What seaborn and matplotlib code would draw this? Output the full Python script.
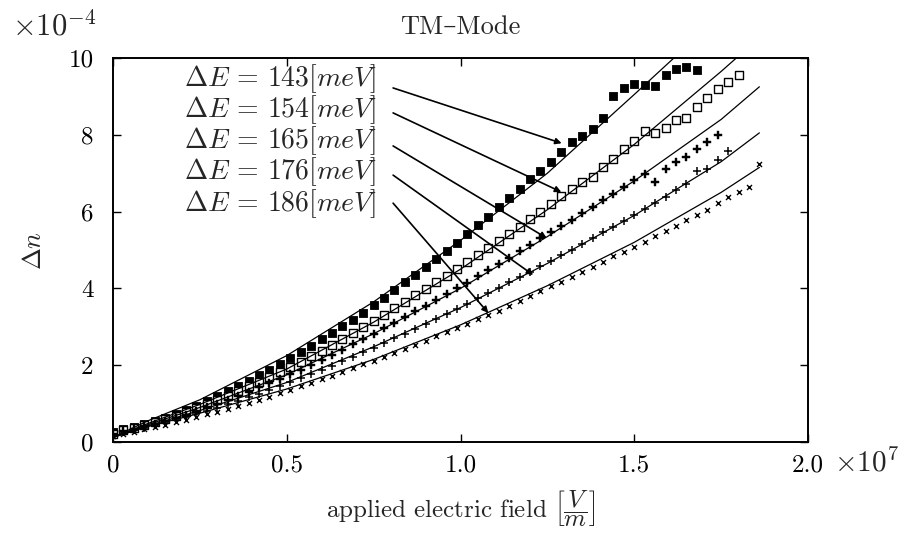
import numpy as np
import pandas as pd
import matplotlib
matplotlib.use("Agg")
import matplotlib.pyplot as plt
import seaborn as sns

# ---------------- data (x in units of 1e7 V/m, y in units of 1e-4) ----------------
labels = ["143", "154", "165", "176", "186"]

field = [0.00, 0.03, 0.06, 0.09, 0.12, 0.15, 0.18, 0.21, 0.24, 0.27, 0.30, 0.33,
         0.36, 0.39, 0.42, 0.45, 0.48, 0.51, 0.54, 0.57, 0.60, 0.63, 0.66, 0.69,
         0.72, 0.75, 0.78, 0.81, 0.84, 0.87, 0.90, 0.93, 0.96, 0.99, 1.02, 1.05,
         1.08, 1.11, 1.14, 1.17, 1.20, 1.23, 1.26, 1.29, 1.32, 1.35, 1.38, 1.41,
         1.44, 1.47, 1.50, 1.53, 1.56, 1.59, 1.62, 1.65, 1.68, 1.71, 1.74, 1.77,
         1.80, 1.83, 1.86]

dn_143 = [0.25, 0.33, 0.40, 0.47, 0.55, 0.63, 0.72, 0.83, 0.95, 1.07, 1.20, 1.33,
          1.46, 1.60, 1.74, 1.88, 2.03, 2.18, 2.34, 2.50, 2.67, 2.84, 3.01, 3.19,
          3.37, 3.56, 3.76, 3.96, 4.16, 4.36, 4.56, 4.77, 4.98, 5.19, 5.42, 5.64,
          5.87, 6.11, 6.36, 6.60, 6.84, 7.06, 7.28, 7.55, 7.80, 7.98, 8.15, 8.45,
          9.00, 9.22, 9.33, 9.30, 9.26, 9.55, 9.72, 9.77, 9.70]
dn_154 = [0.22, 0.30, 0.37, 0.44, 0.51, 0.59, 0.67, 0.77, 0.88, 0.99, 1.10, 1.21,
          1.33, 1.45, 1.57, 1.69, 1.82, 1.95, 2.09, 2.23, 2.38, 2.53, 2.68, 2.84,
          3.00, 3.16, 3.32, 3.48, 3.65, 3.82, 3.99, 4.16, 4.33, 4.50, 4.68, 4.86,
          5.04, 5.23, 5.42, 5.61, 5.80, 5.98, 6.20, 6.40, 6.58, 6.78, 6.90, 7.15,
          7.38, 7.62, 7.85, 8.10, 8.05, 8.18, 8.38, 8.45, 8.72, 8.95, 9.18, 9.38,
          9.56]
dn_165 = [0.20, 0.28, 0.35, 0.41, 0.48, 0.55, 0.62, 0.71, 0.80, 0.90, 1.00, 1.10,
          1.20, 1.31, 1.42, 1.53, 1.64, 1.76, 1.88, 2.01, 2.14, 2.27, 2.40, 2.54,
          2.68, 2.82, 2.96, 3.10, 3.25, 3.40, 3.55, 3.70, 3.85, 4.00, 4.15, 4.31,
          4.47, 4.64, 4.80, 4.97, 5.14, 5.31, 5.46, 5.62, 5.79, 5.96, 6.13, 6.30,
          6.47, 6.64, 6.82, 6.98, 6.78, 7.10, 7.30, 7.42, 7.62, 7.82, 8.00]
dn_176 = [0.18, 0.25, 0.31, 0.37, 0.43, 0.50, 0.57, 0.64, 0.72, 0.80, 0.89, 0.98,
          1.07, 1.16, 1.25, 1.35, 1.45, 1.55, 1.66, 1.77, 1.88, 1.99, 2.10, 2.22,
          2.34, 2.46, 2.58, 2.70, 2.82, 2.95, 3.08, 3.21, 3.34, 3.47, 3.60, 3.74,
          3.88, 4.02, 4.16, 4.30, 4.44, 4.58, 4.72, 4.86, 5.01, 5.16, 5.31, 5.46,
          5.61, 5.76, 5.91, 6.06, 6.22, 6.38, 6.55, 6.72, 7.05, 7.12, 7.35, 7.58]
dn_186 = [0.15, 0.21, 0.27, 0.33, 0.39, 0.45, 0.51, 0.58, 0.65, 0.72, 0.79, 0.86,
          0.94, 1.02, 1.10, 1.18, 1.27, 1.36, 1.45, 1.54, 1.63, 1.73, 1.82, 1.92,
          2.02, 2.12, 2.22, 2.32, 2.43, 2.53, 2.64, 2.75, 2.86, 2.97, 3.08, 3.20,
          3.30, 3.42, 3.54, 3.66, 3.79, 3.92, 4.05, 4.17, 4.30, 4.42, 4.56, 4.70,
          4.84, 4.96, 5.08, 5.22, 5.36, 5.50, 5.62, 5.78, 5.92, 6.05, 6.22, 6.38,
          6.50, 6.64, 7.25]

# fitted curves
fit_x_143 = [0.0, 0.1, 0.25, 0.5, 0.75, 1.0, 1.25, 1.5, 1.62]
fit_y_143 = [0.12, 0.55, 1.10, 2.25, 3.65, 5.25, 7.00, 9.05, 10.05]
fit_x_154 = [0.0, 0.1, 0.25, 0.5, 0.75, 1.0, 1.25, 1.5, 1.75, 1.80]
fit_y_154 = [0.12, 0.48, 0.98, 1.90, 3.12, 4.50, 6.05, 7.75, 9.65, 10.05]
fit_x_rest = [0.0, 0.1, 0.25, 0.5, 0.75, 1.0, 1.25, 1.5, 1.75, 1.86]
fit_y_165 = [0.12, 0.45, 0.90, 1.75, 2.82, 4.00, 5.35, 6.80, 8.40, 9.25]
fit_y_176 = [0.12, 0.42, 0.82, 1.55, 2.48, 3.50, 4.65, 5.90, 7.30, 8.05]
fit_y_186 = [0.12, 0.40, 0.75, 1.38, 2.15, 3.05, 4.07, 5.20, 6.50, 7.15]

# annotation arrows: label block centre, arrow starts and tips
label_block_y = 7.84
arrow_start_y = [9.22, 8.57, 7.71, 6.95, 6.22]
arrow_end_x = [1.291, 1.290, 1.248, 1.209, 1.080]
arrow_end_y = [7.78, 6.51, 5.31, 4.35, 3.36]

xtick_vals = [0, 0.5, 1.0, 1.5, 2.0]
xtick_labels = ["0", "0.5", "1.0", "1.5", "2.0"]
ytick_vals = [0, 2, 4, 6, 8, 10]
ytick_labels = ["0", "2", "4", "6", "8", "10"]

# ---------------- style ----------------
sns.set_theme(style="ticks")
plt.rcParams["font.family"] = ["cmr10", "DejaVu Serif"]
plt.rcParams["mathtext.fontset"] = "cm"
plt.rcParams["axes.unicode_minus"] = False
plt.rcParams["axes.formatter.use_mathtext"] = True

fig = plt.figure(figsize=(8.99, 5.41), dpi=100)
ax = fig.add_axes([0.1257, 0.183, 0.7731, 0.7098])

data_series = [dn_143, dn_154, dn_165, dn_176, dn_186]
markers = ["s", "s", "P", "+", "x"]
sizes = [40, 32, 30, 30, 13]
faces = ["black", "white", "black", "black", "black"]
lws = [0.6, 1.0, 0.3, 1.1, 1.0]

for vals, mk, sz, fc, lw in zip(data_series, markers, sizes, faces, lws):
    df = pd.DataFrame({"E": field[:len(vals)], "dn": vals})
    if mk in ("+", "x"):
        sns.scatterplot(data=df, x="E", y="dn", marker=mk, s=sz, color="black",
                        linewidth=lw, ax=ax, zorder=3)
    else:
        sns.scatterplot(data=df, x="E", y="dn", marker=mk, s=sz, facecolor=fc,
                        edgecolor="black", linewidth=lw, ax=ax, zorder=3)

fits = [(fit_x_143, fit_y_143), (fit_x_154, fit_y_154), (fit_x_rest, fit_y_165),
        (fit_x_rest, fit_y_176), (fit_x_rest, fit_y_186)]
for fx, fy in fits:
    sns.lineplot(x=fx, y=fy, color="black", linewidth=0.9, sort=False,
                 estimator=None, ax=ax, zorder=4)

label_block = "\n".join(r"$\Delta E\, =\, %s[meV]$" % lab for lab in labels)
ax.text(0.76, label_block_y, label_block, ha="right", va="center",
        multialignment="right", fontsize=20, linespacing=0.93, zorder=5)
for sy, ex, ey in zip(arrow_start_y, arrow_end_x, arrow_end_y):
    ax.annotate("", xy=(ex, ey), xytext=(0.806, sy),
                arrowprops=dict(arrowstyle="-|>", color="black", lw=1.2,
                                mutation_scale=9, shrinkA=0, shrinkB=0),
                zorder=5)

ax.set_xlim(0, 2.0)
ax.set_ylim(0, 10)
ax.set_xticks(xtick_vals)
ax.set_xticklabels(xtick_labels)
ax.set_yticks(ytick_vals)
ax.set_yticklabels(ytick_labels)
ax.tick_params(direction="in", length=6, width=1.0, top=True, right=True,
               labelsize=18, colors="black")
ax.tick_params(axis="x", pad=9)
ax.tick_params(axis="y", pad=14)
for sp in ax.spines.values():
    sp.set_visible(True)
    sp.set_linewidth(1.4)
    sp.set_color("black")

ax.set_title("TM–Mode", fontsize=19, pad=17)
ax.set_xlabel(r"applied electric field $\left[\dfrac{V}{m}\right]$", fontsize=18,
              labelpad=8)
ax.set_ylabel(r"$\Delta n$", fontsize=19, labelpad=16)

fig.text(0.013, 0.935, r"$\times 10^{-4}$", fontsize=22, ha="left", va="baseline")
fig.text(0.928, 0.128, r"$\times 10^{7}$", fontsize=21, ha="left", va="baseline")

fig.savefig("out.png", dpi=100, facecolor="white")
